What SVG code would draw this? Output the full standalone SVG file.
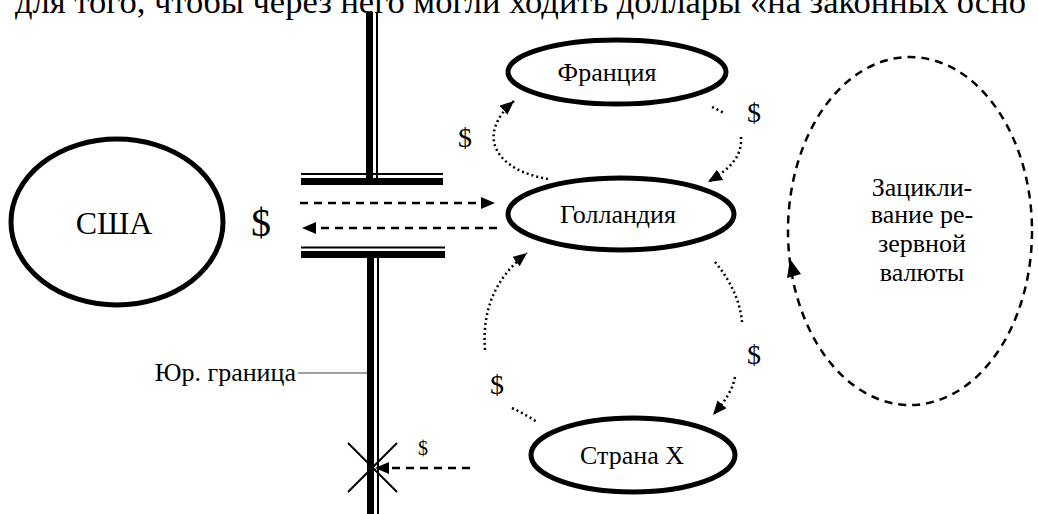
<svg xmlns="http://www.w3.org/2000/svg" width="1038" height="514" viewBox="0 0 1038 514">
<style>
.node{fill:none;stroke:#000;stroke-width:5}
.dot{fill:none;stroke:#000;stroke-width:2.5;stroke-dasharray:2 3}
.dash{fill:none;stroke:#000;stroke-width:2.5;stroke-dasharray:8 6}
</style>
<defs>
<marker id="ah" markerUnits="userSpaceOnUse" markerWidth="15" markerHeight="13" refX="14" refY="6" orient="auto">
<path d="M0,0 L14,6 L0,12 z" fill="#000"/>
</marker>
</defs>
<rect width="1038" height="514" fill="#fff"/>
<text x="15" y="13" font-family="Liberation Serif, serif" font-size="34.5">для того, чтобы через него могли ходить доллары «на законных осно</text>

<g id="border">
<rect x="366" y="12" width="7" height="166" fill="#000"/>
<rect x="376" y="12" width="2" height="166" fill="#000"/>
<rect x="301" y="173" width="142" height="2" fill="#000"/>
<rect x="301" y="178" width="142" height="7" fill="#000"/>
<rect x="301" y="246.5" width="144" height="2" fill="#000"/>
<rect x="301" y="251" width="144" height="7" fill="#000"/>
<rect x="367" y="258" width="7" height="256" fill="#000"/>
<rect x="377" y="258" width="2" height="256" fill="#000"/>
<line x1="348" y1="443" x2="397" y2="492" stroke="#000" stroke-width="2"/>
<line x1="397" y1="443" x2="348" y2="492" stroke="#000" stroke-width="2"/>
<line x1="298" y1="373" x2="367" y2="373" stroke="#808080" stroke-width="1.5"/>
<text x="296" y="381" font-family="Liberation Serif, serif" font-size="26" text-anchor="end">Юр. граница</text>
</g>

<g id="usa">
<ellipse cx="117" cy="222" rx="106" ry="83" class="node" stroke-width="4.5"/>
<text x="114" y="234" font-family="Liberation Serif, serif" font-size="32" text-anchor="middle">США</text>
</g>
<text x="261" y="236" font-family="Liberation Serif, serif" font-size="40" text-anchor="middle">$</text>

<g id="france">
<ellipse cx="617" cy="72" rx="109" ry="32" class="node"/>
<text x="607" y="81" font-family="Liberation Serif, serif" font-size="26" text-anchor="middle">Франция</text>
</g>
<g id="holland">
<ellipse cx="621" cy="214" rx="113" ry="36" class="node"/>
<text x="618" y="223" font-family="Liberation Serif, serif" font-size="26" text-anchor="middle">Голландия</text>
</g>
<g id="countryx">
<ellipse cx="633" cy="455" rx="102" ry="37" class="node"/>
<text x="632" y="464" font-family="Liberation Serif, serif" font-size="26" text-anchor="middle">Страна X</text>
</g>
<g id="loop">
<ellipse cx="910" cy="231" rx="122" ry="174" class="dash" stroke-width="3" stroke-dasharray="10 7"/>
<polygon points="790,259 787,278 801,274" fill="#000"/>
<g font-family="Liberation Serif, serif" font-size="26" text-anchor="middle">
<text x="922" y="196">Зацикли-</text>
<text x="922" y="223">вание ре-</text>
<text x="922" y="252">зервной</text>
<text x="922" y="281">валюты</text>
</g>
</g>

<g id="connectors">
<path d="M300,203 L495,203" class="dash" marker-end="url(#ah)"/>
<path d="M497,228 L302,228" class="dash" marker-end="url(#ah)"/>
<path d="M470,468 L375,468" class="dash" stroke-width="3" stroke-dasharray="10 7" marker-end="url(#ah)"/>
<path d="M548,179 C495,170 475,135 514,101" class="dot" marker-end="url(#ah)"/>
<path d="M712,107 L724,113" class="dot"/>
<path d="M741,137 C742,155 733,167 708,182" class="dot" marker-end="url(#ah)"/>
<path d="M485,350 C482,310 495,278 527,253" class="dot" marker-end="url(#ah)"/>
<path d="M512,408 Q525,414 537,422" class="dot"/>
<path d="M715,262 C730,280 740,300 742,322" class="dot"/>
<path d="M735,377 C732,392 724,402 713,415" class="dot" marker-end="url(#ah)"/>
</g>
<g font-family="Liberation Serif, serif" font-size="28" text-anchor="middle">
<text x="465" y="147">$</text>
<text x="754" y="122">$</text>
<text x="754" y="364">$</text>
<text x="497" y="394">$</text>
<text x="423" y="455" font-size="20">$</text>
</g>
</svg>
